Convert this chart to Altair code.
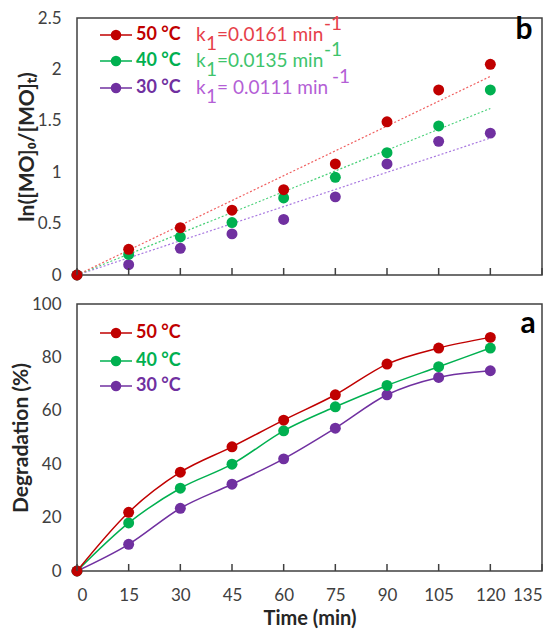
import altair as alt
import pandas as pd

# ---------------- data ----------------
times = [0, 15, 30, 45, 60, 75, 90, 105, 120]
series = ["30 °C", "40 °C", "50 °C"]          # drawing order (50 °C on top)
colors = ["#7030A0", "#00B050", "#C00000"]
k_colors = ["#B45FD6", "#3EC46C", "#E6404A"]
trend_colors = ["#A878E0", "#48D078", "#F06060"]
k_values = [0.0111, 0.0135, 0.0161]
k_labels = ["= 0.0111 min", "=0.0135 min", "=0.0161 min"]

ln_30 = [0, 0.10, 0.26, 0.40, 0.54, 0.76, 1.08, 1.30, 1.38]
ln_40 = [0, 0.20, 0.37, 0.51, 0.75, 0.95, 1.19, 1.45, 1.80]
ln_50 = [0, 0.25, 0.46, 0.63, 0.83, 1.08, 1.49, 1.80, 2.05]

deg_30 = [0, 10, 23.5, 32.5, 42, 53.5, 66, 72.5, 75]
deg_40 = [0, 18, 31, 40, 52.5, 61.5, 69.5, 76.5, 83.5]
deg_50 = [0, 22, 37, 46.5, 56.5, 66, 77.5, 83.5, 87.5]

x_ticks = [0, 15, 30, 45, 60, 75, 90, 105, 120, 135]
fit_range = [0, 120]

# ---------------- tables ----------------
ln_df = pd.DataFrame(
    [(t, v, s) for s, vals in zip(series, [ln_30, ln_40, ln_50]) for t, v in zip(times, vals)],
    columns=["t", "v", "series"])
deg_df = pd.DataFrame(
    [(t, v, s) for s, vals in zip(series, [deg_30, deg_40, deg_50]) for t, v in zip(times, vals)],
    columns=["t", "v", "series"])
fit_df = pd.DataFrame(
    [(t, k * t, s) for s, k in zip(series, k_values) for t in fit_range],
    columns=["t", "v", "series"])
tick_df = pd.DataFrame({"t": x_ticks})
leg_df = pd.DataFrame({"series": series, "klab": k_labels})

W, H1, H2 = 465, 257, 267
FONT = "Lato"

xscale = alt.Scale(domain=[0, 135], nice=False)
color_enc = alt.Color("series:N", scale=alt.Scale(domain=series, range=colors), legend=None)
x_axis_bottom = alt.Axis(values=x_ticks, title="Time (min)", titlePadding=5, labelPadding=16,
                         titleFontSize=20)


def inside_ticks(h, axis):
    return alt.Chart(tick_df).mark_rule(color="#404040", strokeWidth=1.5).encode(
        x=alt.X("t:Q", scale=xscale, axis=axis),
        y=alt.value(h), y2=alt.value(h - 7))


def legend_layers(row_y, with_k):
    layers = []
    legend_order = [2, 1, 0]  # 50, 40, 30 top to bottom
    sup_x = [247, 247, 255]
    for row, idx in enumerate(legend_order):
        s = series[idx]
        ry = row_y[row]
        base = alt.Chart(leg_df).transform_filter(alt.datum.series == s)
        layers.append(base.mark_rule(color=colors[idx], strokeWidth=1.5).encode(
            x=alt.value(23), x2=alt.value(55), y=alt.value(ry)))
        layers.append(base.mark_point(filled=True, opacity=1, size=110, color=colors[idx]).encode(
            x=alt.value(39), y=alt.value(ry)))
        layers.append(base.mark_text(align="left", baseline="middle", font=FONT, fontSize=18,
                                     fontWeight="bold", color=colors[idx]).encode(
            text="series:N", x=alt.value(59), y=alt.value(ry)))
        if with_k:
            kc = k_colors[idx]
            layers.append(base.mark_text(align="left", baseline="middle", font=FONT, fontSize=19,
                                         color=kc, text="k").encode(x=alt.value(119), y=alt.value(ry)))
            layers.append(base.mark_text(align="left", baseline="middle", font=FONT, fontSize=19,
                                         color=kc, text="1").encode(x=alt.value(129), y=alt.value(ry + 9)))
            layers.append(base.mark_text(align="left", baseline="middle", font=FONT, fontSize=19,
                                         color=kc).encode(text="klab:N", x=alt.value(140), y=alt.value(ry)))
            layers.append(base.mark_text(align="left", baseline="middle", font=FONT, fontSize=19,
                                         color=kc, text="-1").encode(x=alt.value(sup_x[row]),
                                                                     y=alt.value(ry - 11)))
    return layers


# ---------------- top panel (b) ----------------
trend = alt.Chart(fit_df).mark_line(strokeWidth=1.2, strokeDash=[2, 2]).encode(
    x=alt.X("t:Q", scale=xscale, axis=None),
    y=alt.Y("v:Q"),
    color=alt.Color("series:N", scale=alt.Scale(domain=series, range=trend_colors), legend=None),
    detail="series:N")

pts_b = alt.Chart(ln_df).mark_point(filled=True, opacity=1, size=120).encode(
    x=alt.X("t:Q", scale=xscale, axis=None),
    y=alt.Y("v:Q", scale=alt.Scale(domain=[0, 2.5], nice=False),
            axis=alt.Axis(values=[0, 0.5, 1, 1.5, 2, 2.5], format=".1~f",
                          title="ln([MO]₀/[MO]ₜ)")),
    color=color_enc)

label_b = alt.Chart(leg_df.head(1)).mark_text(
    text="b", font=FONT, fontSize=30, fontWeight="bold", color="#000000",
    align="center", baseline="middle").encode(x=alt.value(447), y=alt.value(12))

top = alt.layer(trend, pts_b, inside_ticks(H1, None), label_b,
                *legend_layers([17, 43, 70], True)).resolve_scale(color="independent").properties(
    width=W, height=H1)

# ---------------- bottom panel (a) ----------------
lines_a = alt.Chart(deg_df).mark_line(strokeWidth=1.5, interpolate="monotone").encode(
    x=alt.X("t:Q", scale=xscale, axis=x_axis_bottom),
    y=alt.Y("v:Q"),
    color=color_enc, detail="series:N")

pts_a = alt.Chart(deg_df).mark_point(filled=True, opacity=1, size=120).encode(
    x=alt.X("t:Q", scale=xscale, axis=x_axis_bottom),
    y=alt.Y("v:Q", scale=alt.Scale(domain=[0, 100], nice=False),
            axis=alt.Axis(values=[0, 20, 40, 60, 80, 100], title="Degradation (%)")),
    color=color_enc)

label_a = alt.Chart(leg_df.head(1)).mark_text(
    text="a", font=FONT, fontSize=30, fontWeight="bold", color="#000000",
    align="center", baseline="middle").encode(x=alt.value(451), y=alt.value(20))

bottom = alt.layer(lines_a, pts_a, inside_ticks(H2, x_axis_bottom), label_a,
                   *legend_layers([29, 57, 82], False)).properties(width=W, height=H2)

chart = alt.vconcat(top, bottom, spacing=10).properties(
    padding={"left": 1, "top": 0, "right": 0, "bottom": 0}
).configure_view(
    stroke="#404040", strokeWidth=1.5
).configure_axis(
    domain=False, ticks=False, grid=False,
    labelFont=FONT, labelFontSize=17, labelColor="#404040", labelPadding=16,
    titleFont=FONT, titleFontSize=21, titleFontWeight="bold", titleColor="#262626",
    titlePadding=0
)

chart.save("out.html", embed_options={"renderer": "svg", "actions": False})
